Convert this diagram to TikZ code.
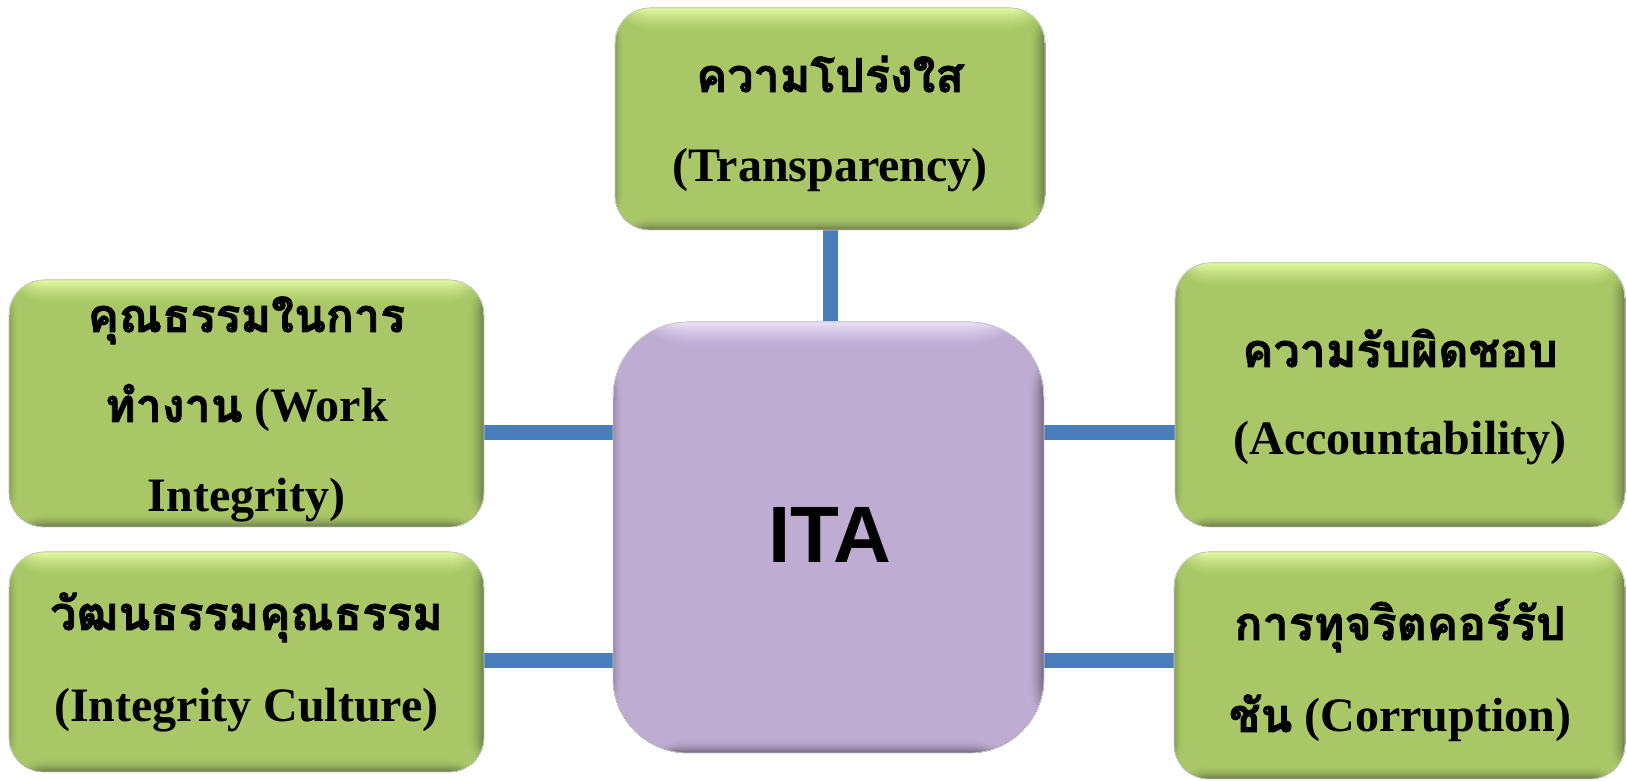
\documentclass[tikz,border=0pt]{standalone}
\usepackage{fontspec}
\setmainfont{Liberation Serif}
\newfontfamily\thaifont[Script=Thai, Scale=0.97, FakeBold=1.6]{Loma}
\newfontfamily\itafont{Liberation Sans}
\definecolor{gbase}{RGB}{169,199,103}
\definecolor{ghl}{RGB}{225,250,160}
\definecolor{gdk}{RGB}{112,130,76}
\definecolor{pbase}{RGB}{190,172,210}
\definecolor{phl}{RGB}{235,226,250}
\definecolor{pdk}{RGB}{118,106,132}
\definecolor{connblue}{RGB}{74,126,187}
\pgfdeclarelayer{background}
\pgfsetlayers{background,main}
\newcommand{\mybevel}[3]{% base, highlight, dark
 \coordinate (bvnw) at (path picture bounding box.north west);
 \coordinate (bvne) at (path picture bounding box.north east);
 \coordinate (bvsw) at (path picture bounding box.south west);
 \coordinate (bvse) at (path picture bounding box.south east);
 \foreach \i in {9,...,0}{\pgfmathtruncatemacro\bvp{55*((10-\i)/10)^2}\pgfmathsetmacro\bvj{\i+1}%
   \fill[#3!\bvp!#1] (bvnw) rectangle ([xshift=\bvj pt]bvsw);}
 \foreach \i in {17,...,0}{\pgfmathtruncatemacro\bvp{100*((18-\i)/18)^2}\pgfmathsetmacro\bvj{\i+1}%
   \fill[#3!\bvp!#1] ([xshift=-\bvj pt]bvne) rectangle (bvse);}
 \foreach \i in {13,...,0}{\pgfmathtruncatemacro\bvp{100*((14-\i)/14)^2}\pgfmathsetmacro\bvj{\i+1}%
   \fill[#3!\bvp!#1] (bvsw) rectangle ([yshift=\bvj pt]bvse);}
 \foreach \i in {25,...,0}{\pgfmathtruncatemacro\bvp{100*((26-\i)/26)^1.6}\pgfmathsetmacro\bvj{\i+1}%
   \fill[#2!\bvp!#1] (bvnw) rectangle ([yshift=-\bvj pt]bvne);}
}
\tikzset{
 gbox/.style={rectangle, rounded corners=35pt, fill=gbase, draw=black!22, line width=0.8pt,
   inner sep=0pt, path picture={\mybevel{gbase}{ghl}{gdk}}},
 pbox/.style={rectangle, rounded corners=75pt, fill=pbase, draw=black!22, line width=0.8pt,
   inner sep=0pt, path picture={\mybevel{pbase}{phl}{pdk}}},
 tl/.style={anchor=base, inner sep=0pt, font=\fontsize{48}{60}\selectfont\bfseries},
 ital/.style={anchor=base, inner sep=0pt, font=\itafont\fontsize{80}{90}\selectfont\bfseries},
 conn/.style={draw=connblue, line width=15pt},
}
\begin{document}
\begin{tikzpicture}[x=1pt,y=1pt]
\useasboundingbox (0,0) rectangle (1627,781);
% boxes
\node[pbox, minimum width=431pt, minimum height=431pt] (ITA) at (828.5,243.5) {};
\node[gbox, minimum width=430pt, minimum height=222pt] (T) at (830,662) {};
\node[gbox, minimum width=475pt, minimum height=247pt] (LU) at (246.5,377.5) {};
\node[gbox, minimum width=475pt, minimum height=220pt] (LL) at (246.5,119) {};
\node[gbox, minimum width=450pt, minimum height=264pt] (RU) at (1400,386) {};
\node[gbox, minimum width=451pt, minimum height=227pt] (RL) at (1399.5,115.5) {};
% texts
\node[ital] (ITAt) at (830,218) {ITA};
\node[tl] (T1) at (830,689) {\thaifont ความโปร่งใส};
\node[tl] (T2) at (830,599) {(Transparency)};
\node[tl] (LU1) at (246.5,449) {\thaifont คุณธรรมในการ};
\node[tl] (LU2) at (246.5,359) {{\thaifont ทำงาน} (Work};
\node[tl] (LU3) at (246.5,269) {Integrity)};
\node[tl] (LL1) at (246.5,151) {\thaifont วัฒนธรรมคุณธรรม};
\node[tl] (LL2) at (246.5,59) {(Integrity Culture)};
\node[tl] (RU1) at (1400,414) {\thaifont ความรับผิดชอบ};
\node[tl] (RU2) at (1400,326) {(Accountability)};
\node[tl] (RL1) at (1400,141) {\thaifont การทุจริตคอร์รัป};
\node[tl] (RL2) at (1400,49) {{\thaifont ชัน} (Corruption)};
% connectors
\coordinate (lvlU) at (0,348);
\coordinate (lvlL) at (0,120);
\begin{pgfonlayer}{background}
\draw[conn] (T.south) -- (T.south |- ITA.north);
\draw[conn] (LU.east |- lvlU) -- (ITA.west |- lvlU);
\draw[conn] (LL.east |- lvlL) -- (ITA.west |- lvlL);
\draw[conn] (ITA.east |- lvlU) -- (RU.west |- lvlU);
\draw[conn] (ITA.east |- lvlL) -- (RL.west |- lvlL);
\end{pgfonlayer}
\end{tikzpicture}
\end{document}
